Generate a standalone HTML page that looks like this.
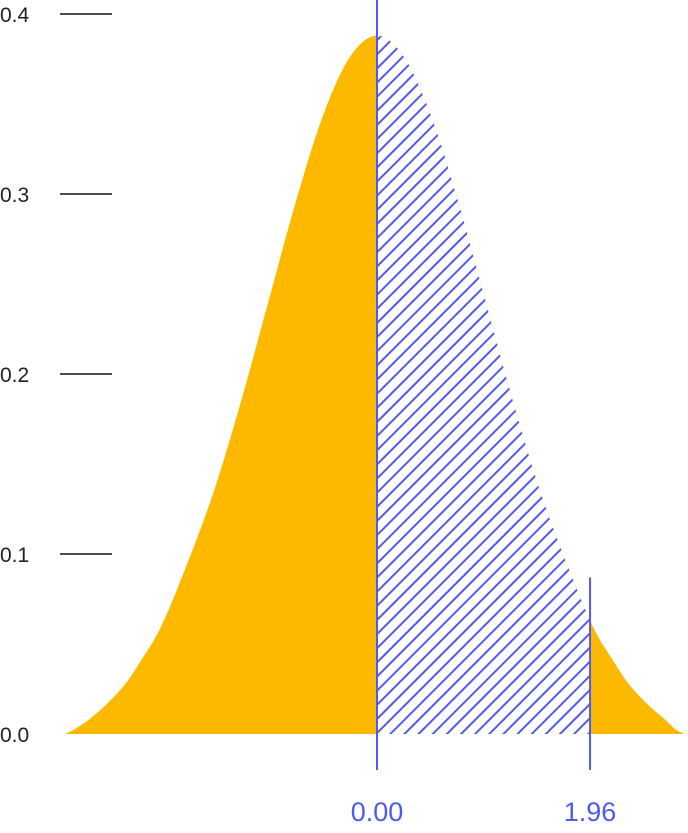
<!DOCTYPE html>
<html><head><meta charset="utf-8"><style>
html,body{margin:0;padding:0;background:#fff;}
svg{display:block;font-family:"Liberation Sans",sans-serif;}
</style></head><body>
<svg id="chart" width="688" height="833" viewBox="0 0 688 833">
<defs>
<pattern id="hatch" patternUnits="userSpaceOnUse" width="10" height="10" patternTransform="rotate(45)">
<line x1="5" y1="0" x2="5" y2="10" stroke="#4f5bf0" stroke-width="2"/>
</pattern>
<clipPath id="hatchClip"><path id="clipPathShape"/></clipPath>
</defs>
<g id="ticks"></g>
<path id="curve" fill="#fdb900"/>
<rect id="whiteRegion" fill="#fff" clip-path="url(#hatchClip)" x="0" y="0" width="688" height="833"/>
<rect id="hatchRegion" fill="url(#hatch)" clip-path="url(#hatchClip)" x="0" y="0" width="688" height="833"/>
<g id="markers"></g>
</svg>
<script>
const zValues=[-2.87,-2.8,-2.65,-2.48,-2.3,-2.18,-2,-1.75,-1.5,-1.25,-1,-0.75,-0.5,-0.25,0,0.25,0.5,0.75,1,1.25,1.5,1.75,2,2.18,2.3,2.48,2.65,2.76,2.83];
const densities=[0.0,0.002,0.008,0.017,0.029,0.040,0.058,0.094,0.135,0.185,0.240,0.295,0.343,0.376,0.388,0.376,0.343,0.295,0.240,0.185,0.135,0.094,0.058,0.040,0.029,0.017,0.008,0.002,0.0];
const tickValues=[0,0.1,0.2,0.3,0.4];
const tickLabels=["0.0","0.1","0.2","0.3","0.4"];
const tickHasLine=[false,true,true,true,true];
const markerValues=[0,1.96];
const markerLabels=["0.00","1.96"];
const markerTopDensity=[0.41,0.087];

const NS="http://www.w3.org/2000/svg";
const xS=z=>377+z*108.7;
const yS=d=>734-d*1800;

function curvePts(zs,ds){return zs.map((z,i)=>[xS(z),yS(ds[i])]);}
function smooth(p){
  const n=p.length,dx=[],m=[],t=[];
  for(let i=0;i<n-1;i++){dx.push(p[i+1][0]-p[i][0]);m.push((p[i+1][1]-p[i][1])/dx[i]);}
  t[0]=m[0];t[n-1]=m[n-2];
  for(let i=1;i<n-1;i++){t[i]=(m[i-1]*m[i]<=0)?0:(m[i-1]+m[i])/2;}
  for(let i=0;i<n-1;i++){
    if(m[i]===0){t[i]=0;t[i+1]=0;continue;}
    const a=t[i]/m[i],b=t[i+1]/m[i],h=a*a+b*b;
    if(h>9){const s=3/Math.sqrt(h);t[i]=s*a*m[i];t[i+1]=s*b*m[i];}
  }
  let s="M"+p[0][0]+","+p[0][1];
  for(let i=0;i<n-1;i++){
    const h=dx[i]/3;
    s+=" C"+(p[i][0]+h)+","+(p[i][1]+t[i]*h)+" "+(p[i+1][0]-h)+","+(p[i+1][1]-t[i+1]*h)+" "+p[i+1][0]+","+p[i+1][1];
  }
  return s;
}
const pts=curvePts(zValues,densities);
const base=yS(0);
const shape=smooth(pts)+" L"+pts[pts.length-1][0]+","+base+" L"+pts[0][0]+","+base+" Z";
document.getElementById('curve').setAttribute('d',shape);
document.getElementById('clipPathShape').setAttribute('d',shape);
const cp=document.getElementById('hatchClip');
const clip2=document.createElementNS(NS,'clipPath');clip2.id='rangeClip';
const rr=document.createElementNS(NS,'rect');
rr.setAttribute('x',xS(markerValues[0]));rr.setAttribute('y',0);
rr.setAttribute('width',xS(markerValues[1])-xS(markerValues[0]));rr.setAttribute('height',833);
clip2.appendChild(rr);cp.parentNode.appendChild(clip2);
['whiteRegion','hatchRegion'].forEach(id=>{
  const el=document.getElementById(id);
  const g=document.createElementNS(NS,'g');g.setAttribute('clip-path','url(#rangeClip)');
  el.parentNode.insertBefore(g,el);g.appendChild(el);
});

const tg=document.getElementById('ticks');
tickValues.forEach((v,i)=>{
  if(tickHasLine[i]){
    const l=document.createElementNS(NS,'line');
    
    
    l.setAttribute('x1',60);l.setAttribute('x2',112);
    l.setAttribute('y1',yS(v));l.setAttribute('y2',yS(v));
    l.setAttribute('stroke','#111');l.setAttribute('stroke-width','1.5');
    tg.appendChild(l);
  }
  const t=document.createElementNS(NS,'text');
  
  
  t.setAttribute('x',0);t.setAttribute('y',yS(v)+8);
  t.setAttribute('font-size','21');t.setAttribute('fill','#222');
  t.textContent=tickLabels[i];
  tg.appendChild(t);
});

const mg=document.getElementById('markers');
markerValues.forEach((v,i)=>{
  const l=document.createElementNS(NS,'line');
  
  
  l.setAttribute('x1',xS(v));l.setAttribute('x2',xS(v));
  l.setAttribute('y1',Math.max(0,yS(markerTopDensity[i])));l.setAttribute('y2',770);
  l.setAttribute('stroke','#4f5bf0');l.setAttribute('stroke-width','2');
  mg.appendChild(l);
  const t=document.createElementNS(NS,'text');
  
  
  t.setAttribute('x',xS(v));t.setAttribute('y',821);
  t.setAttribute('text-anchor','middle');
  t.setAttribute('font-size','27');t.setAttribute('fill','#4f5bf0');
  t.textContent=markerLabels[i];
  mg.appendChild(t);
});
</script>
</body></html>
